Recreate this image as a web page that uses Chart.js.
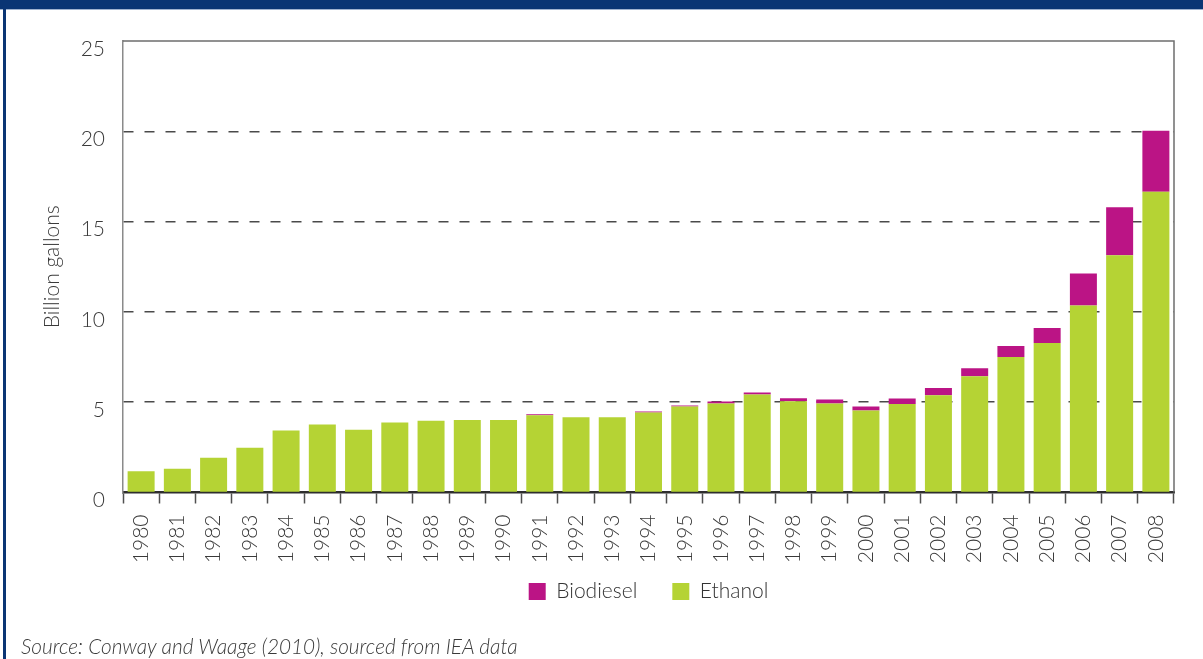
<!DOCTYPE html>
<html><head><meta charset="utf-8">
<script src="https://cdn.jsdelivr.net/npm/chart.js@4/dist/chart.umd.min.js"></script>
<style>
html,body{margin:0;padding:0;background:#fff;}
body{width:1203px;height:659px;position:relative;overflow:hidden;}
#band{position:absolute;left:0;top:0;width:1203px;height:9px;background:#0a3574;}
#bandline{position:absolute;left:0;top:9px;width:1203px;height:1px;background:#9fb2cf;}
#lborder{position:absolute;left:3px;top:0;width:3px;height:659px;background:#0a3574;}
#wrap{position:absolute;left:0;top:0;width:1203px;height:659px;}
#src{position:absolute;left:21px;top:634px;font:italic 300 20.8px Lato, sans-serif;color:#3a3a3a;line-height:24px;white-space:nowrap;}
</style>
</head><body>
<div id="band"></div><div id="bandline"></div><div id="lborder"></div>
<div id="wrap"><canvas id="c" width="1203" height="659"></canvas></div>
<div id="src">Source: Conway and Waage (2010), sourced from IEA data</div>
<script>
const years = ['1980','1981','1982','1983','1984','1985','1986','1987','1988','1989','1990','1991','1992','1993','1994','1995','1996','1997','1998','1999','2000','2001','2002','2003','2004','2005','2006','2007','2008'];
const ethanol = [1.17,1.32,1.93,2.48,3.43,3.76,3.48,3.87,3.97,4.02,4.02,4.28,4.16,4.16,4.43,4.76,4.93,5.43,5.05,4.93,4.54,4.9,5.39,6.43,7.5,8.28,10.35,13.13,16.65];
const biodiesel = [0,0,0,0,0,0,0,0,0,0,0,0.05,0,0,0.06,0.06,0.11,0.11,0.17,0.22,0.22,0.3,0.39,0.45,0.61,0.83,1.77,2.66,3.38];
const yTicks = [0,5,10,15,20,25];
const seriesNames = ['Ethanol','Biodiesel'];
const yTitle = 'Billion gallons';

const frame = {
  id:'frame',
  afterDatasetsDraw(chart){
    const {ctx, chartArea:a} = chart;
    ctx.save();
    ctx.strokeStyle = '#6e6e6e';
    ctx.lineWidth = 1.5;
    ctx.beginPath();
    ctx.moveTo(a.left, a.top);
    ctx.lineTo(a.right, a.top);
    ctx.lineTo(a.right, a.bottom);
    ctx.stroke();
    ctx.restore();
  }
};

new Chart(document.getElementById('c'), {
  type:'bar',
  data:{
    labels: years,
    datasets:[
      {label: seriesNames[0], data: ethanol, backgroundColor:'#b5d334', borderWidth:0, barPercentage:0.745, categoryPercentage:1},
      {label: seriesNames[1], data: biodiesel, backgroundColor:'#bb1485', borderWidth:0, barPercentage:0.745, categoryPercentage:1}
    ]
  },
  options:{
    responsive:false,
    devicePixelRatio:1,
    animation:false,
    layout:{padding:{top:41,right:29,left:0,bottom:47}},
    plugins:{
      tooltip:{enabled:false},
      legend:{
        position:'bottom',
        fullSize:false,
        reverse:true,
        labels:{boxWidth:17, boxHeight:17, padding:35, color:'#333', font:{family:'Lato', weight:'300', size:21}}
      }
    },
    scales:{
      x:{
        stacked:true,
        afterFit: s => { s.height = 53.5; s._computeLabelArea = () => null; },
        grid:{display:true, drawOnChartArea:false, drawTicks:true, tickLength:11, tickColor:'#505050', tickWidth:1.5},
        border:{display:true, color:'#2e2e2e', width:2.5},
        ticks:{autoSkip:false, minRotation:90, maxRotation:90, padding:11, color:'#3a3a3a', font:{family:'Lato', weight:'300', size:21}}
      },
      y:{
        stacked:true,
        min:0, max:25,
        afterFit: s => { s.width = 123; },
        afterBuildTicks: s => { s.ticks = yTicks.map(v => ({value:v})); },
        grid:{drawTicks:false, lineWidth:1.5, color: c => (c.tick && (c.tick.value === 0 || c.tick.value === 25)) ? 'rgba(0,0,0,0)' : '#4a4a4a'},
        border:{display:true, color:'#8a8a8a', width:1.5, dash:[10,11]},
        ticks:{padding:18, labelOffset:8, color:'#3a3a3a', font:{family:'Lato', weight:'300', size:21}},
        title:{display:true, text:yTitle, color:'#3a3a3a', font:{family:'Lato', weight:'300', size:21}, padding:{top:40, bottom:0}}
      }
    }
  },
  plugins:[frame]
});
</script>
</body></html>
